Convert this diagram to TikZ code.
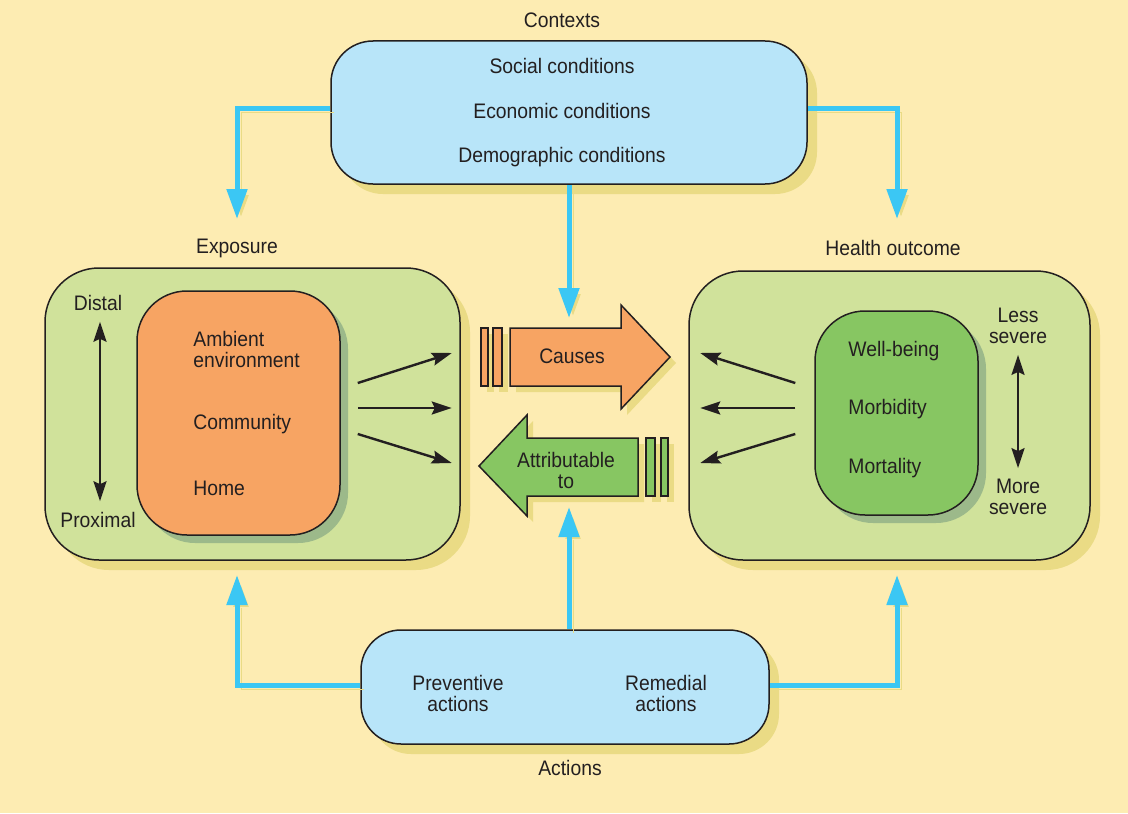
\documentclass[tikz,border=0pt]{standalone}
\usepackage{fontspec}
\setmainfont{Liberation Sans}[FakeStretch=0.92]
\usetikzlibrary{arrows.meta,shadows,positioning}

\definecolor{bgyellow}{RGB}{253,236,178}
\definecolor{shadowyellow}{RGB}{234,219,133}
\definecolor{ctxblue}{RGB}{184,229,249}
\definecolor{feedcyan}{RGB}{59,199,244}
\definecolor{outergreen}{RGB}{208,226,155}
\definecolor{ambientorange}{RGB}{247,164,99}
\definecolor{outcomegreen}{RGB}{135,198,98}
\definecolor{innershadow}{RGB}{156,185,138}
\definecolor{inkgray}{RGB}{35,31,32}

\tikzset{
    every node/.style={font=\fontsize{10.5}{10.5}\selectfont, text=inkgray},
    yshadow/.style={drop shadow={shadow xshift=5pt, shadow yshift=-5pt, fill=shadowyellow, opacity=1}},
    gshadow/.style={drop shadow={shadow xshift=4pt, shadow yshift=-4pt, fill=innershadow, opacity=1}},
    panel/.style={draw=inkgray, line width=0.75pt, inner sep=0pt, yshadow},
    ctxbox/.style={panel, fill=ctxblue, rounded corners=21pt},
    groupbox/.style={panel, fill=outergreen, rounded corners=27pt},
    innerbox/.style={draw=inkgray, line width=0.75pt, inner sep=0pt, rounded corners=25pt, gshadow},
    item/.style={anchor=west, inner sep=0pt, align=left},
    feed/.style={draw=feedcyan, line width=2.5pt, -{Triangle[length=15pt,width=10pt]},
        preaction={draw=shadowyellow, transform canvas={shift={(2pt,-2pt)}}}},
    pointer/.style={draw=inkgray, line width=1.2pt, -{Stealth[length=10pt,width=6.5pt,inset=1.5pt]}},
    scalearrow/.style={draw=inkgray, line width=1.2pt, {Stealth[length=10pt,width=6.5pt,inset=1.5pt]}-{Stealth[length=10pt,width=6.5pt,inset=1.5pt]}},
    blockarrow/.style={draw=inkgray, line width=0.75pt,
        preaction={fill=shadowyellow, draw=none, transform canvas={shift={(3pt,-3pt)}}}},
}

\begin{document}
\begin{tikzpicture}[x=0.5pt, y=-0.5pt]
    \useasboundingbox (0,0) rectangle (1128,813);
    \fill[bgyellow] (0,0) rectangle (1128,813);

    %% Contexts
    \node (contexts) at (562,20) {Contexts};
    \node[ctxbox, minimum width=238pt, minimum height=71.5pt] (ctx) at (569,112.5) {};
    \node (social) at (562,66) {Social conditions};
    \node (economic) at (562,111) {Economic conditions};
    \node (demographic) at (562,157) {Demographic conditions};

    %% Exposure
    \node (exposure) at (237,248) {Exposure};
    \node[groupbox, minimum width=207.5pt, minimum height=146pt] (expo) at (252.5,414) {};
    \node[innerbox, fill=ambientorange, minimum width=101.5pt, minimum height=122pt] (ambient) at (238.5,413) {};
    \node[item] (ambenv) at (193,349) {Ambient\\environment};
    \node[item] (community) at (193,424) {Community};
    \node[item] (home) at (193,488) {Home};
    \node (distal) at (98,303) {Distal};
    \node (proximal) at (98,520) {Proximal};
    \draw[scalearrow] ([xshift=1pt,yshift=-2pt]distal.south) -- ([xshift=1pt,yshift=2pt]proximal.north);

    %% Health outcome
    \node (outcome) at (893,248) {Health outcome};
    \node[groupbox, minimum width=200.5pt, minimum height=144.5pt] (health) at (889.5,415.5) {};
    \node[innerbox, fill=outcomegreen, minimum width=81.5pt, minimum height=102pt] (severity) at (896.5,413) {};
    \node[item] (wellbeing) at (848,351) {Well-being};
    \node[item] (morbidity) at (848,409) {Morbidity};
    \node[item] (mortality) at (848,468) {Mortality};
    \node[align=center] (less) at (1018,326) {Less\\severe};
    \node[align=center] (more) at (1018,497) {More\\severe};
    \draw[scalearrow] ([yshift=-2pt]less.south) -- ([yshift=2pt]more.north);

    %% Small arrows out of and into the panels
    \foreach \a/\b in {-30/-60, -5/-5, 21/50} {
        \draw[pointer] ([shift={(17,\a)}]ambient.east) -- ([shift={(111,\b)}]ambient.east);
        \draw[pointer] ([shift={(-19,\a)}]severity.west) -- ([shift={(-114,\b)}]severity.west);
    }

    %% Causes
    \draw[blockarrow, fill=ambientorange] (510,328) -- (621,328) -- (621,305) -- (670,357)
        -- (621,409) -- (621,386) -- (510,386) -- cycle;
    \draw[blockarrow, fill=ambientorange] (481,328) rectangle (488,386);
    \draw[blockarrow, fill=ambientorange] (493,328) rectangle (502,386);
    \node (causes) at (572,356) {Causes};

    %% Attributable to
    \draw[blockarrow, fill=outcomegreen] (638,438) -- (527,438) -- (527,415) -- (479,466)
        -- (527,516) -- (527,496) -- (638,496) -- cycle;
    \draw[blockarrow, fill=outcomegreen] (646,438) rectangle (655,496);
    \draw[blockarrow, fill=outcomegreen] (661,438) rectangle (668,496);
    \node[align=center] (attrib) at (566,470) {Attributable\\to};

    %% Actions
    \node[ctxbox, rounded corners=20pt, minimum width=204pt, minimum height=57pt] (act) at (565,687) {};
    \node[align=center] (preventive) at (458,693) {Preventive\\actions};
    \node[align=center] (remedial) at (666,693) {Remedial\\actions};
    \node (actions) at (570,768) {Actions};

    %% Feed lines
    \coordinate (expoIn) at (237,219);
    \coordinate (healthIn) at (897,219);
    \coordinate (causeIn) at (569,318);
    \coordinate (expoUp) at (237,575);
    \coordinate (healthUp) at (897,575);
    \coordinate (attribUp) at (569,507);
    \draw[feed] ([yshift=2pt]ctx.west) -| (expoIn);
    \draw[feed] ([yshift=2pt]ctx.east) -| (healthIn);
    \draw[feed] (ctx.south) -- (causeIn);
    \draw[feed] ([yshift=1pt]act.west) -| (expoUp);
    \draw[feed] ([yshift=1pt]act.east) -| (healthUp);
    \draw[feed] ([xshift=2pt]act.north) -- (attribUp);
\end{tikzpicture}
\end{document}
